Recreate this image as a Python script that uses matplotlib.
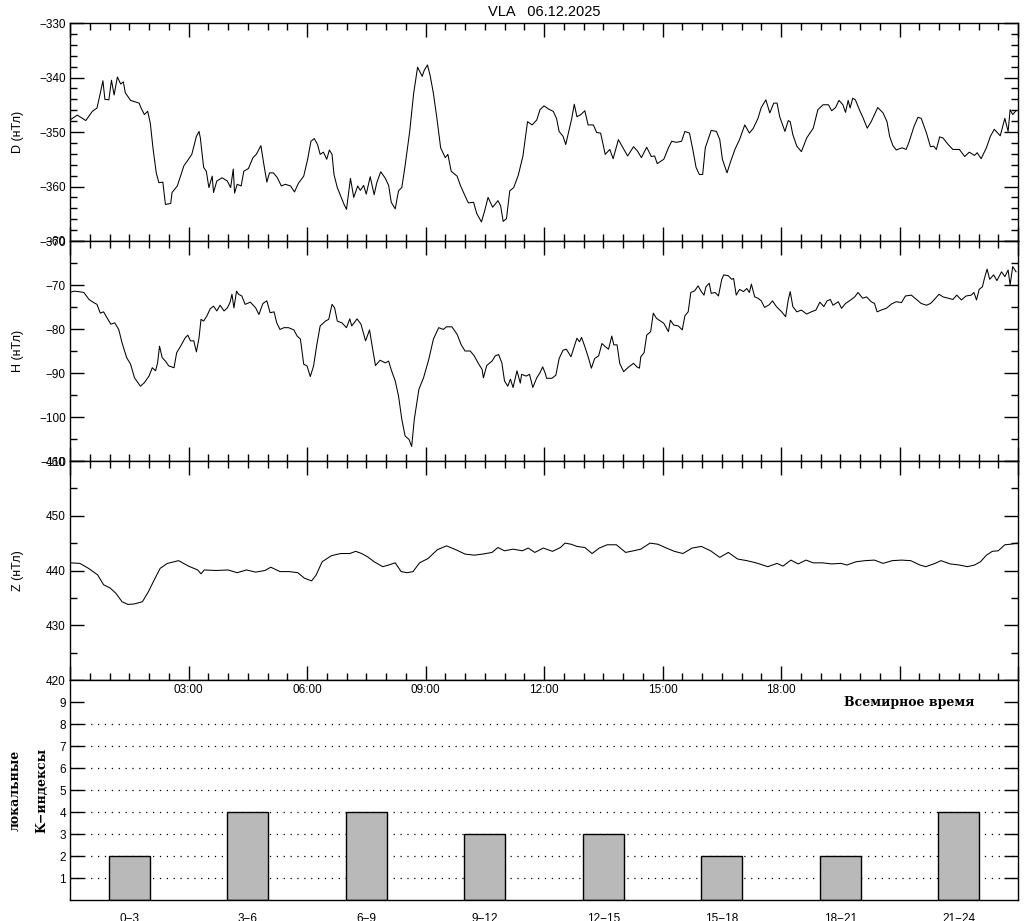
import matplotlib
matplotlib.use("Agg")
import matplotlib.pyplot as plt
from matplotlib.ticker import MultipleLocator, FixedLocator

# ---------------- data (time in minutes UT, values in nT) ----------------
d_minutes = [0, 11, 24, 34, 41, 46, 50, 53, 59, 63, 67, 72, 77, 81, 84, 92, 105, 108, 113, 118,
             122, 126, 131, 135, 141, 145, 153, 155, 163, 173, 180, 185, 192, 196, 198, 203, 207,
             211, 216, 218, 223, 231, 239, 244, 248, 250, 254, 260, 264, 271, 278, 283, 290, 294,
             299, 303, 309, 315, 321, 327, 335, 341, 347, 355, 361, 366, 371, 376, 380, 385, 390,
             394, 398, 401, 406, 411, 416, 420, 426, 431, 437, 441, 446, 450, 456, 462, 466, 472,
             479, 484, 488, 494, 499, 504, 509, 516, 522, 528, 535, 538, 543, 547, 552, 557, 563,
             570, 574, 579, 588, 593, 600, 605, 613, 618, 625, 630, 635, 642, 650, 654, 658, 663,
             668, 674, 681, 688, 695, 702, 709, 714, 720,
             727, 734, 739, 743, 749, 753, 757, 762, 766, 770, 776, 782, 787, 795, 800, 806, 813,
             820, 825, 833, 840, 847, 856, 862, 868, 876, 883, 888, 892, 902, 909, 914, 921, 929,
             934, 941, 946, 951, 956, 961, 965, 974, 982, 987, 991, 998, 1003, 1010, 1017, 1025,
             1032, 1038, 1045, 1050, 1057, 1063, 1069, 1074, 1078, 1086, 1091, 1094, 1098, 1104,
             1111, 1119, 1129, 1136, 1144, 1152, 1157, 1163, 1168, 1174, 1178, 1182, 1185, 1189,
             1193, 1199, 1205, 1211, 1217, 1222, 1227, 1235, 1241, 1245, 1250, 1255, 1264, 1270,
             1274, 1282, 1288, 1293, 1301, 1307, 1312, 1316, 1321, 1326, 1334, 1341, 1351, 1359,
             1366, 1374, 1378, 1384, 1392, 1398, 1404, 1413, 1420, 1425, 1428, 1432, 1437]
d_values = [-347.8, -346.9, -347.9, -346.2, -345.6, -342.9, -340.6, -344.0, -344.1, -340.5, -343.2,
            -339.9, -341.2, -340.8, -342.8, -344.2, -344.7, -345.6, -346.8, -346.2, -348.4, -352.9,
            -357.5, -359.3, -359.2, -363.3, -363.1, -361.1, -359.9, -356.2, -355.0, -354.1, -350.8,
            -349.9, -351.1, -356.5, -357.2, -360.2, -358.1, -361.1, -359.0, -358.4, -359.0, -360.2,
            -356.8, -361.2, -359.6, -359.9, -357.2, -356.7, -354.7, -354.1, -352.5, -355.6, -359.2,
            -357.5, -357.5, -358.4, -359.9, -359.6, -359.9, -361.0, -359.4, -358.1, -355.0, -351.7,
            -351.2, -352.3, -354.1, -353.7, -355.0, -353.3, -354.1, -357.8, -360.2, -361.7, -363.2,
            -364.2, -358.5, -362.0, -359.9, -360.7, -359.8, -361.4, -358.2, -361.5, -359.3, -357.3,
            -358.5, -359.8, -362.9, -364.1, -360.8, -360.2, -356.2, -349.9, -342.9, -338.1, -339.8,
            -338.7, -337.7, -339.6, -342.9, -347.2, -352.9, -354.7, -354.1, -357.2, -358.1, -359.8,
            -361.7, -363.0, -362.9, -365.0, -366.5, -364.4, -362.0, -363.8, -362.6, -363.5, -366.4,
            -365.9, -360.8, -360.2, -357.9, -354.4, -348.1, -348.7, -347.8, -345.9, -345.2,
            -345.8, -346.2, -347.5, -349.9, -350.8, -352.3, -350.2, -347.6, -344.9, -347.2, -346.8,
            -346.1, -348.7, -348.7, -350.1, -350.2, -354.1, -353.2, -354.9, -351.4, -352.9, -354.4,
            -352.7, -353.5, -354.7, -352.8, -354.5, -354.4, -355.8, -355.0, -352.9, -351.7, -351.9,
            -351.7, -349.9, -350.2, -353.2, -356.5, -357.8, -357.8, -352.9, -349.7, -349.9, -351.4,
            -355.0, -357.5, -355.6, -353.2, -351.4, -348.7, -350.2, -349.3, -347.5, -345.5, -344.1,
            -346.5, -344.7, -344.7, -347.2, -349.9, -347.9, -348.1, -350.5, -352.6, -353.6, -351.1,
            -349.3, -345.9, -345.0, -345.0, -346.1, -345.5, -344.2, -345.0, -346.4, -344.2, -345.6,
            -343.8, -344.1, -345.9, -347.5, -349.3, -348.1, -346.8, -345.5, -346.5, -348.1, -350.8,
            -352.5, -353.3, -352.9, -353.2, -352.0, -349.0, -347.3, -347.5, -350.2, -352.7, -352.6,
            -353.2, -350.9, -351.1, -352.3, -353.2, -353.2, -354.5, -353.7, -354.3, -353.8, -354.9,
            -352.9, -350.8, -349.5, -350.7, -347.5, -349.9, -345.9, -346.8, -346.1]

h_minutes = [0, 6, 13, 21, 29, 36, 41, 46, 51, 56, 62, 68, 74, 79, 86, 92, 98, 107, 113, 120, 125,
             130, 133, 136, 140, 145, 150, 158, 162, 168, 175, 179, 183, 188, 192, 196, 199, 203,
             208, 213, 218, 223, 228, 234, 239, 243, 246, 249, 253, 256, 261, 266, 274, 282, 287,
             293, 299, 304, 310, 314, 319, 325, 332, 340, 345, 350, 355, 360, 365, 370, 375, 380,
             388, 393, 398, 402, 406, 413, 420, 425, 428, 436, 442, 449, 455, 459, 464, 471, 479,
             484, 488, 494, 499, 504, 509, 515, 519, 523, 530, 537, 545, 552, 560, 567, 572, 580,
             588, 594, 600, 608, 614, 621, 626, 628, 633, 641, 646, 651, 656, 660, 665, 669, 673,
             679, 684, 686, 693, 698, 703, 709, 714, 718, 722,
             724, 732, 738, 743, 749, 754, 761, 765, 770, 774, 777, 782, 787, 792, 797, 803, 808,
             813, 818, 823, 826, 831, 835, 841, 848, 856, 861, 865, 867, 872, 876, 882, 886, 891,
             896, 902, 909, 912, 917, 924, 930, 934, 939, 943, 949, 954, 959, 963, 966, 971, 974,
             980, 985, 990, 993, 1000, 1005, 1008, 1012, 1017, 1023, 1028, 1032, 1035, 1040, 1045,
             1050, 1055, 1062, 1067, 1073, 1081, 1087, 1091, 1094, 1098, 1104, 1111, 1119, 1126,
             1133, 1139, 1145, 1150, 1155, 1159, 1167, 1172, 1178, 1184, 1192, 1197, 1204, 1210,
             1217, 1222, 1226, 1232, 1240, 1248, 1255, 1263, 1269, 1278, 1286, 1293, 1301, 1307,
             1313, 1320, 1326, 1334, 1341, 1347, 1354, 1361, 1369, 1373, 1377, 1381, 1386, 1389,
             1393, 1397, 1403, 1408, 1415, 1420, 1425, 1428, 1432, 1437]
h_values = [-71.7, -71.4, -71.5, -71.7, -73.3, -74.0, -74.4, -76.4, -76.1, -77.4, -78.9, -78.6,
            -80.1, -83.1, -86.5, -88.0, -91.1, -93.0, -92.2, -90.7, -88.8, -89.5, -87.7, -83.9,
            -86.5, -87.3, -88.4, -88.8, -85.4, -83.9, -82.0, -81.4, -82.7, -82.7, -85.2, -82.0,
            -77.8, -78.2, -77.0, -75.4, -74.8, -75.9, -74.6, -75.9, -75.2, -74.0, -72.1, -75.2,
            -71.4, -72.1, -72.5, -74.4, -73.9, -75.2, -76.7, -74.2, -73.6, -76.3, -76.1, -78.6,
            -80.1, -79.7, -79.7, -80.2, -81.6, -82.3, -88.0, -88.4, -90.8, -88.4, -83.5, -79.3,
            -78.2, -77.8, -74.4, -75.2, -78.2, -78.6, -79.7, -77.7, -79.3, -77.7, -78.9, -82.7,
            -80.2, -83.9, -88.3, -87.1, -87.7, -87.3, -89.3, -91.8, -95.2, -100.5, -104.3, -105.1,
            -106.7, -100.5, -93.7, -91.1, -86.9, -82.3, -79.7, -80.1, -79.5, -79.5, -81.2, -83.5,
            -85.0, -85.0, -86.1, -88.0, -89.2, -91.1, -88.3, -87.3, -86.1, -85.8, -87.7, -91.8,
            -93.0, -91.4, -93.3, -89.5, -92.3, -90.3, -90.7, -90.3, -93.3, -91.1, -89.9, -88.6,
            -90.1,
            -91.2, -91.2, -90.5, -86.7, -84.8, -84.6, -86.3, -84.4, -82.1, -82.9, -81.9, -84.0,
            -86.3, -88.9, -86.7, -86.1, -83.3, -84.0, -84.6, -81.6, -83.6, -83.6, -87.8, -89.7,
            -88.7, -87.8, -88.6, -88.9, -86.3, -85.4, -81.4, -80.6, -76.4, -77.6, -78.1, -78.7,
            -80.6, -78.0, -79.1, -79.3, -80.2, -77.0, -76.1, -71.7, -71.3, -70.2, -71.5, -72.3,
            -70.4, -69.6, -71.9, -71.7, -72.5, -68.7, -67.7, -67.9, -68.7, -68.5, -72.3, -71.0,
            -71.5, -70.8, -71.7, -69.8, -72.7, -73.0, -73.6, -75.1, -74.5, -73.6, -74.9, -76.1,
            -77.2, -73.4, -71.5, -74.9, -76.1, -75.7, -76.6, -76.1, -75.7, -73.9, -74.9, -73.6,
            -73.3, -74.6, -73.8, -75.3, -74.2, -73.6, -72.7, -71.7, -73.0, -72.7, -73.8, -74.2,
            -76.1, -75.7, -75.3, -74.3, -73.8, -74.0, -72.5, -72.3, -73.3, -74.2, -74.6, -74.2,
            -73.3, -72.1, -72.7, -73.0, -73.3, -72.3, -73.4, -72.5, -72.3, -71.7, -73.4, -71.0,
            -70.4, -68.5, -66.4, -68.7, -67.7, -69.0, -67.0, -68.1, -66.6, -70.0, -65.8, -67.0]

z_minutes = [0, 15, 28, 42, 51, 61, 70, 79, 88, 98, 110, 119, 128, 137, 148, 165, 180, 194, 199,
             204, 222, 240, 254, 268, 282, 296, 305, 319, 333, 346, 356, 367, 374, 383, 397, 411,
             425, 434, 443, 452, 462, 475, 484, 494, 503, 512, 521, 531, 544, 558, 572, 586, 600,
             614, 627, 641, 650, 660, 673, 687, 696, 706, 719, 733, 745, 752, 761, 770, 782, 793,
             804, 816, 830, 844, 856, 867, 881, 893, 904, 918, 931, 945, 959, 973, 987, 1000, 1014,
             1028, 1042, 1060, 1074, 1083, 1095, 1106, 1118, 1129, 1143, 1157, 1171, 1180, 1194,
             1208, 1222, 1235, 1249, 1263, 1277, 1291, 1300, 1314, 1323, 1337, 1351, 1363, 1374,
             1383, 1392, 1401, 1410, 1420, 1429, 1438]
z_values = [441.4, 441.3, 440.4, 439.2, 437.4, 436.8, 435.8, 434.3, 433.8, 433.9, 434.3, 436.1,
            438.3, 440.4, 441.3, 441.8, 440.8, 440.1, 439.4, 440.1, 440.0, 440.1, 439.6, 440.1,
            439.7, 440.0, 440.6, 439.8, 439.8, 439.6, 438.6, 438.1, 439.2, 441.6, 442.7, 443.1,
            443.1, 443.5, 443.1, 442.5, 441.6, 440.7, 441.0, 441.4, 439.8, 439.6, 439.8, 441.4,
            442.2, 443.8, 444.5, 443.8, 443.0, 442.8, 443.0, 443.3, 444.2, 443.6, 443.9, 443.6,
            444.1, 443.3, 444.1, 443.5, 444.2, 445.0, 444.8, 444.4, 444.2, 443.1, 444.1, 444.7,
            444.7, 443.3, 443.6, 443.9, 445.0, 444.8, 444.2, 443.5, 443.1, 444.1, 444.4, 443.6,
            442.4, 443.3, 442.1, 441.8, 441.4, 440.7, 441.3, 440.8, 441.9, 441.2, 441.9, 441.4,
            441.4, 441.2, 441.3, 441.0, 441.6, 441.8, 441.9, 441.3, 441.8, 441.9, 441.8, 441.0,
            440.7, 441.3, 441.8, 441.2, 441.0, 440.7, 441.0, 441.6, 442.8, 443.5, 443.6, 444.7,
            444.8, 445.0]

k_intervals = ["0\u22123", "3\u22126", "6\u22129", "9\u221212", "12\u221215", "15\u221218",
               "18\u221221", "21\u221224"]
k_values = [2, 4, 4, 3, 3, 2, 2, 4]
k_centers_h = [1.5, 4.5, 7.5, 10.5, 13.5, 16.5, 19.5, 22.5]

time_labels = ["03:00", "06:00", "09:00", "12:00", "15:00", "18:00"]
time_label_h = [3, 6, 9, 12, 15, 18]

title = "VLA   06.12.2025"
panel_labels = ["D (\u043d\u0422\u043b)", "H (\u043d\u0422\u043b)", "Z (\u043d\u0422\u043b)"]

# ---------------- figure ----------------
plt.rcParams["font.family"] = ["Liberation Sans", "DejaVu Sans"]
TICK_FS = 8.5
fig = plt.figure(figsize=(10.24, 9.21), dpi=100)
FW, FH = 1024.0, 921.0
L, R = 70, 1018


def add_panel(top, bottom):
    return fig.add_axes([L / FW, 1 - bottom / FH, (R - L) / FW, (bottom - top) / FH])


ax1 = add_panel(23, 241)
ax2 = add_panel(241, 461)
ax3 = add_panel(461, 680)
ax4 = add_panel(680, 900)

series = [
    (ax1, d_minutes, d_values, (-370, -330), 2),
    (ax2, h_minutes, h_values, (-110, -60), 5),
    (ax3, z_minutes, z_values, (420, 460), 5),
]
for (ax, tm, vals, ylim, yminor), lab in zip(series, panel_labels):
    ax.plot([t / 60.0 for t in tm], vals, color="black", lw=0.75)
    ax.set_xlim(0, 24)
    ax.set_ylim(*ylim)
    ax.xaxis.set_major_locator(MultipleLocator(3))
    ax.xaxis.set_minor_locator(MultipleLocator(0.5))
    ax.yaxis.set_major_locator(MultipleLocator(10))
    ax.yaxis.set_minor_locator(MultipleLocator(yminor))
    ax.tick_params(which="both", direction="in", top=True, bottom=True, left=True, right=True,
                   labelbottom=False, labelsize=TICK_FS, width=1, pad=3)
    ax.tick_params(which="major", length=10)
    ax.tick_params(which="minor", length=5)
    for sp in ax.spines.values():
        sp.set_linewidth(1)
    ax.set_ylabel(lab, fontsize=9, labelpad=0)
    ax.yaxis.set_label_coords(-(70 - 24) / (R - L), 0.5)

ax1.set_title(title, fontsize=10.5, pad=5)

# ---------------- K index panel ----------------
ax4.set_xlim(0, 24)
ax4.set_ylim(0, 10)
for lev in range(1, 9):
    ax4.axhline(lev, color="black", lw=0.9, linestyle=(0, (1, 4.5)), zorder=1)
ax4.bar(k_centers_h, k_values, width=1.03, color="#b9b9b9", edgecolor="black", lw=1, zorder=2)
ax4.yaxis.set_major_locator(FixedLocator(list(range(1, 10))))
ax4.tick_params(axis="y", which="both", direction="in", left=True, right=True, length=10,
                labelsize=TICK_FS, width=1, pad=3)
ax4.set_xticks(k_centers_h)
ax4.set_xticklabels(k_intervals, fontsize=TICK_FS)
ax4.tick_params(axis="x", length=0, pad=9)
for h, t in zip(time_label_h, time_labels):
    ax4.text(h, 9.55, t, ha="center", va="center", fontsize=TICK_FS)
ax4.text(21.25, 9.0, "\u0412\u0441\u0435\u043c\u0438\u0440\u043d\u043e\u0435 \u0432\u0440\u0435\u043c\u044f",
         ha="center", va="center", fontsize=9, family="DejaVu Serif", weight="bold")
fig.text(15 / FW, 1 - 790 / FH, "\u043b\u043e\u043a\u0430\u043b\u044c\u043d\u044b\u0435",
         rotation=90, ha="center", va="center", fontsize=9, family="DejaVu Serif", weight="bold")
fig.text(42 / FW, 1 - 790 / FH, "K\u2212\u0438\u043d\u0434\u0435\u043a\u0441\u044b",
         rotation=90, ha="center", va="center", fontsize=9, family="DejaVu Serif", weight="bold")
for sp in ax4.spines.values():
    sp.set_linewidth(1)

fig.savefig("out.png", dpi=100)
